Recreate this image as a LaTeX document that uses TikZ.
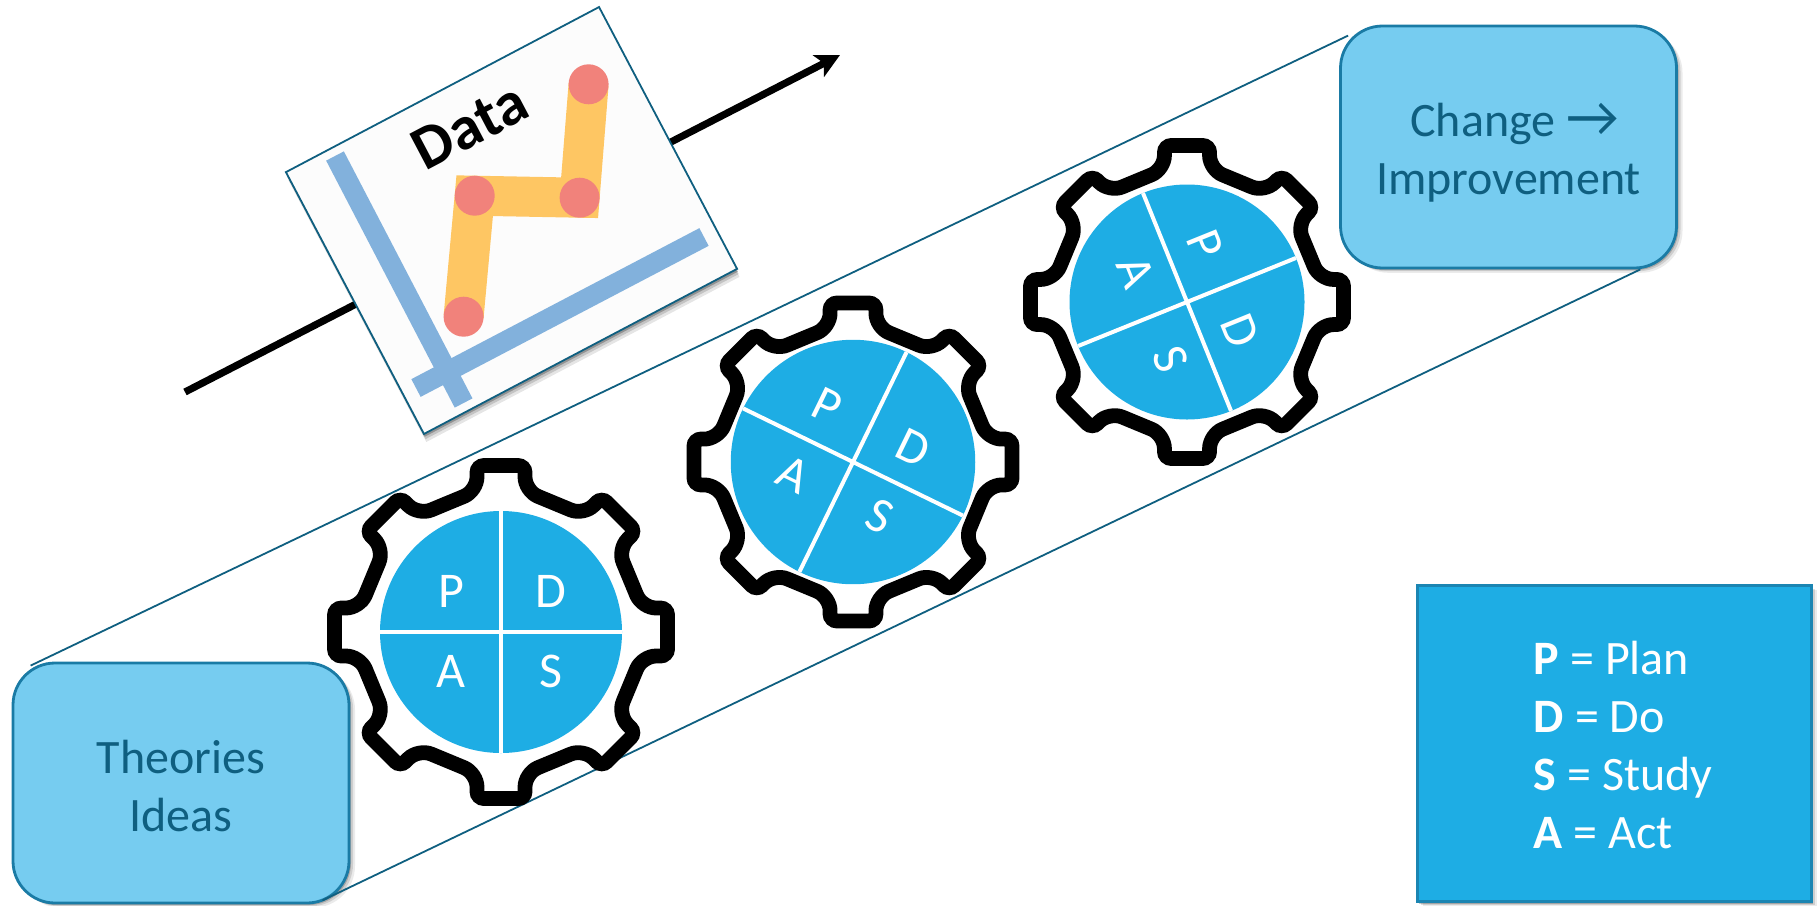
\documentclass[tikz,border=0pt]{standalone}
\usepackage{fontspec}
\setmainfont{Carlito}
\usetikzlibrary{arrows.meta,positioning,shadows}
\definecolor{pdsablue}{HTML}{1EADE4}
\definecolor{paleblue}{HTML}{76CCF0}
\definecolor{edgeblue}{HTML}{1A7BA5}
\definecolor{inkteal}{HTML}{0F5F80}
\definecolor{axisblue}{HTML}{82B1DC}
\definecolor{seriesgold}{HTML}{FEC663}
\definecolor{dotred}{HTML}{F1827B}

\begin{document}
\begin{tikzpicture}[
  x=.5pt, y=-.5pt,
  softshadow/.style={drop shadow={shadow xshift=3pt, shadow yshift=-2.4pt, opacity=.08, fill=black},
                     drop shadow={shadow xshift=2pt, shadow yshift=-1.6pt, opacity=.12, fill=black},
                     drop shadow={shadow xshift=1pt, shadow yshift=-1pt, opacity=.2, fill=black}},
  ideabox/.style={rectangle, rounded corners=21pt, draw=edgeblue, line width=1.4pt, fill=paleblue,
                  minimum width=168pt, minimum height=120pt, align=center, text=inkteal,
                  font=\fontsize{24}{29}\selectfont, softshadow},
  legendbox/.style={rectangle, draw=edgeblue!80!pdsablue, line width=1.5pt, fill=pdsablue,
                    minimum width=197pt, minimum height=158pt, softshadow},
  legendtxt/.style={align=left, inner sep=0pt, text=white, font=\fontsize{24}{29}\selectfont},
  datacard/.style={rectangle, draw=inkteal, line width=.9pt, fill=black!1,
                   minimum width=177pt, minimum height=148pt,
                   drop shadow={shadow xshift=1.2pt, shadow yshift=-4pt, opacity=.1, fill=black},
                   drop shadow={shadow xshift=.8pt, shadow yshift=-2.6pt, opacity=.15, fill=black},
                   drop shadow={shadow xshift=.4pt, shadow yshift=-1.4pt, opacity=.25, fill=black}},
  datatitle/.style={font=\fontsize{31}{33}\selectfont\bfseries, inner sep=0pt},
  trend/.style={-{Stealth[length=12pt, width=12pt, inset=3pt]}, line width=3.6pt},
  band/.style={draw=inkteal, line width=.9pt},
  axisbar/.style={draw=axisblue, line width=10pt},
  seriesbar/.style={draw=seriesgold, line width=20pt, line join=miter},
  dotfill/.style={fill=dotred},
  gearline/.style={draw=black, line width=7.4pt},
  pie/.style={fill=pdsablue},
  divider/.style={draw=white, line width=2pt},
  letter/.style={text=white, inner sep=0pt, font=\fontsize{25}{30}\selectfont},
]
\useasboundingbox (0,0) rectangle (1820,905);

% arrow behind the card
\coordinate (trendstart) at (185,392);
\coordinate (trendend) at (840,55);
\draw[trend] (trendstart) -- (trendend);

% data card
\node[datacard, rotate=27.8] (card) at (511.5,220.5) {};
\coordinate (yaxistop) at (335,156);
\coordinate (yaxisend) at (463.6,403);
\coordinate (xaxisend) at (704,237);
\coordinate (xaxistop) at (416,388);
\draw[axisbar] (yaxistop) -- (yaxisend);
\draw[axisbar] (xaxistop) -- (xaxisend);
\coordinate (pta) at (463.6,316.7);
\coordinate (ptb) at (474.7,195.7);
\coordinate (ptc) at (579.6,197.7);
\coordinate (ptd) at (588.6,84.3);
\draw[seriesbar] (pta) -- (ptb) -- (ptc) -- (ptd);
\foreach \pt in {pta,ptb,ptc,ptd}
  \fill[dotfill] (\pt) circle (10pt);
\node[datatitle, rotate=27.8] (datalabel) at (470,126) {Data};

% the two end boxes and the band between them
\node[ideabox] (theories) at (181,783) {\rule{0pt}{20pt}Theories\\Ideas};
\node[ideabox, minimum height=121pt] (change) at (1508.5,147) {\hspace*{6pt}\rule{0pt}{22pt}Change {\fontsize{29}{29}\selectfont →}\\Improvement};
\draw[band] ([xshift=9.5pt,yshift=-2pt]theories.north west) -- ([xshift=4.5pt,yshift=-5.5pt]change.north west);
\draw[band] ([xshift=-14pt,yshift=2pt]theories.south east) -- ([xshift=-18.8pt]change.south east);

% gears: x/y/scale/pie radius/turn/name
\foreach \gx/\gy/\gs/\gp/\gr/\gname in {501/632/1/121/0/geara, 853/462/.955/128/26/gearb, 1187/302/.94/125/68/gearc} {
  \begin{scope}[shift={(\gx,\gy)}, scale=\gs]
    \draw[gearline] ([rotate=22.5]0,-139.5)
      \foreach \a in {0,45,...,315} {
        [rounded corners=7pt] -- ([rotate=-\a]-24,-141)
        [rounded corners=3.5pt] -- ([rotate=-\a]-24,-166.5)
        -- ([rotate=-\a]24,-166.5)
        [rounded corners=7pt] -- ([rotate=-\a]24,-141)
      } -- cycle;
    \fill[pie] (0,0) circle (\gp);
    \draw[divider] ([rotate=-\gr]-\gp,0) -- ([rotate=-\gr]\gp,0);
    \draw[divider] ([rotate=-\gr]0,-\gp) -- ([rotate=-\gr]0,\gp);
    \node[letter, rotate=-\gr] (\gname-p) at ([rotate=-\gr]-50,-41) {P};
    \node[letter, rotate=-\gr] (\gname-d) at ([rotate=-\gr]50,-41) {D};
    \node[letter, rotate=-\gr] (\gname-a) at ([rotate=-\gr]-50,39) {A};
    \node[letter, rotate=-\gr] (\gname-s) at ([rotate=-\gr]50,39) {S};
  \end{scope}
}

% legend
\node[legendbox] (legend) at (1614,743.5) {};
\node[legendtxt, anchor=west, right=59pt of legend.west, yshift=-.8pt] (legendtext)
  {\textbf{P} = Plan\\\textbf{D} = Do\\\textbf{S} = Study\\\textbf{A} = Act};

\end{tikzpicture}
\end{document}
